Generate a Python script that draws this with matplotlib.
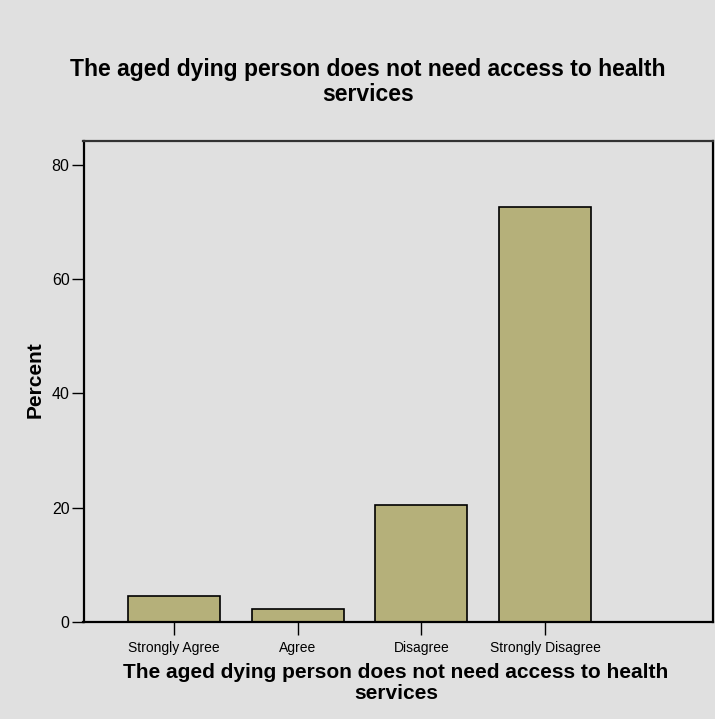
import numpy as np
import matplotlib.pyplot as plt

# dati (percentuali)
categories = ["Strongly Agree", "Agree", "Disagree", "Strongly Disagree"]
percent = [4.5, 2.3, 20.5, 72.7]
y_ticks = [0, 20, 40, 60, 80]
title = "The aged dying person does not need access to health\nservices"

bg = "#e0e0e0"
bar_color = "#b5b07a"

plt.rcParams['font.family'] = ['Liberation Sans', 'DejaVu Sans']

fig = plt.figure(figsize=(7.15, 7.19), dpi=100, facecolor=bg)
W, H = 715, 719
ax = fig.add_axes([83.5 / W, 1 - 621.7 / H, (713 - 83.5) / W, (621.7 - 140.7) / H])
ax.set_facecolor(bg)

x = np.arange(len(categories))
ax.bar(x, percent, width=0.745, color=bar_color, edgecolor="black", linewidth=1.2, zorder=2)

ax.set_xlim(-0.735, 4.36)
ax.set_ylim(0, 84.3)
ax.set_yticks(y_ticks)
ax.set_xticks(x)
ax.set_xticklabels(categories, fontsize=10)
ax.tick_params(axis="y", labelsize=11.5, length=9, width=1, direction="out", pad=1)
ax.tick_params(axis="x", length=9, width=1, direction="out", pad=5)

for side in ["left", "bottom", "top", "right"]:
    ax.spines[side].set_linewidth(1.6)
    ax.spines[side].set_color("black")
ax.spines["top"].set_color("#333333")

# titoli posizionati a mano (stile SPSS)
fig.text(368 / W, 1 - 82 / H, title, ha="center", va="center",
         fontsize=16.5, fontweight="bold", linespacing=1.15)
fig.text(396 / W, 1 - 683 / H, title, ha="center", va="center",
         fontsize=15, fontweight="bold", linespacing=1.15)
fig.text(35 / W, 1 - 380 / H, "Percent", ha="center", va="center",
         rotation=90, fontsize=15, fontweight="bold")

fig.savefig("out.png", dpi=100, facecolor=bg)
